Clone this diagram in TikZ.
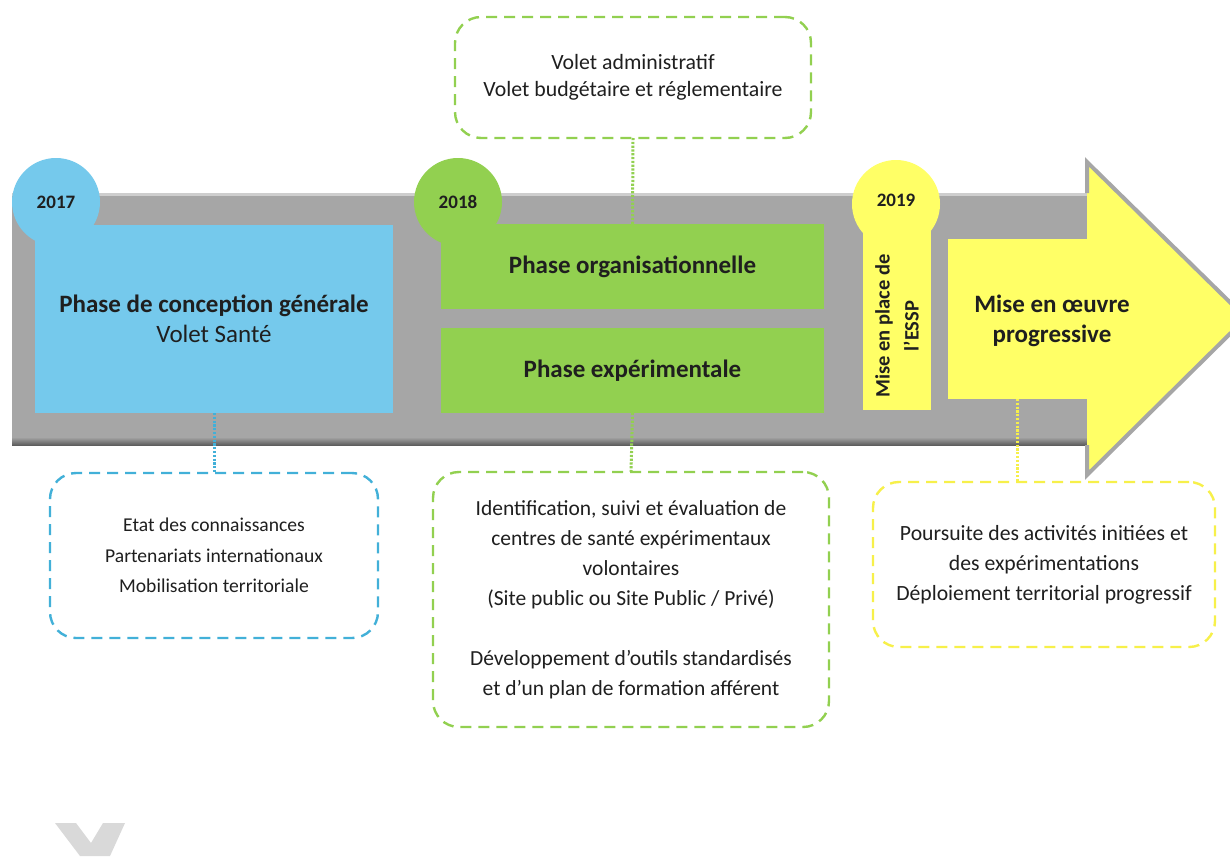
\documentclass[tikz,border=0pt]{standalone}
\usepackage{fontspec}
\setmainfont{Carlito}
\begin{document}
\begin{tikzpicture}[x=1pt,y=-1pt,
  every node/.style={inner sep=0pt, outer sep=0pt, text=black!88},
  yearbubble/.style={circle, minimum size=88pt, font=\bfseries\fontsize{19}{21}\selectfont},
  phasebox/.style={rectangle, align=center},
  titlefont/.style={font=\bfseries\fontsize{25}{30}\selectfont},
  notebox/.style={rectangle, rounded corners=26pt, line width=2.4pt, dash pattern=on 11pt off 7pt, fill=white, align=center},
  leader/.style={line width=3pt, dash pattern=on 2.2pt off 1.6pt},
]
\definecolor{barGray}{HTML}{A6A6A6}
\definecolor{barDark}{HTML}{5E5E5E}
\definecolor{skyBlue}{HTML}{75C9EC}
\definecolor{skyLine}{HTML}{42B0D8}
\definecolor{leafGreen}{HTML}{92D050}
\definecolor{sunYellow}{HTML}{FFFF66}
\definecolor{sunLine}{HTML}{F7F04A}

\clip (0,0) rectangle (1230,856);
\fill[white] (0,0) rectangle (1230,856);

% timeline bar with bevelled lower edge
\fill[barGray] (12,193) rectangle (1087,445);
\fill[white!45!barGray] (12,193) rectangle (1087,195.5);
\shade[top color=barGray, bottom color=barDark] (12,437) rectangle (1087,445);

% arrow head
\fill[sunYellow] (1087,162) -- (1246,318) -- (1087,475) -- cycle;
\draw[barGray, line width=4pt, line join=miter]
  (1087,193) -- (1087,162) -- (1246,318) -- (1087,475) -- (1087,445);

% 2017
\node[yearbubble, fill=skyBlue] (y17) at (56,202) {2017};
\node[phasebox, fill=skyBlue, minimum width=358pt, minimum height=188pt,
      font=\fontsize{25}{30}\selectfont] (conc) at (214,319)
  {\textbf{Phase de conception générale}\\Volet Santé};

% 2018
\node[yearbubble, fill=leafGreen] (y18) at (458,202) {2018};
\node[phasebox, titlefont, fill=leafGreen, minimum width=383pt, minimum height=85pt] (orga) at (632.5,266.5) {Phase organisationnelle};
\node[phasebox, titlefont, fill=leafGreen, minimum width=383pt, minimum height=85pt] (expe) at (632.5,370.5) {Phase expérimentale};

% 2019
\node[yearbubble, fill=sunYellow] (y19) at (896,204) {};
\node[font=\bfseries\fontsize{19}{21}\selectfont] (y19t) at (896,200) {2019};
\node[phasebox, fill=sunYellow, minimum width=68pt, minimum height=185pt] (essp) at (897,317.5) {};
\node[rotate=90, align=center, font=\bfseries\fontsize{20.5}{29}\selectfont] (esspt) at (897,326)
  {Mise en place de\\l’ESSP};
\node[phasebox, fill=sunYellow, minimum width=139pt, minimum height=160pt] (prog) at (1017.5,319) {};
\node[titlefont, align=center] (progt) at (1052,321) {Mise en œuvre\\progressive};

% notes
\node[notebox, draw=leafGreen, minimum width=356pt, minimum height=121pt,
      font=\fontsize{21.8}{27}\selectfont] (admin) at (633,77.5)
  {Volet administratif\\Volet budgétaire et réglementaire};
\node[notebox, draw=skyLine, minimum width=328pt, minimum height=165pt,
      font=\fontsize{19.6}{30.5}\selectfont] (etat) at (214,555.5)
  {Etat des connaissances\\Partenariats internationaux\\Mobilisation territoriale};
\node[notebox, draw=leafGreen, minimum width=396pt, minimum height=255pt,
      font=\fontsize{21.5}{30}\selectfont] (ident) at (631,599.5)
  {Identification, suivi et évaluation de\\centres de santé expérimentaux\\volontaires\\(Site public ou Site Public / Privé)\\[30pt]Développement d’outils standardisés\\et d’un plan de formation afférent};
\node[notebox, draw=sunLine, minimum width=342pt, minimum height=165pt,
      font=\fontsize{21.7}{30}\selectfont] (pours) at (1044,564.5)
  {Poursuite des activités initiées et\\des expérimentations\\Déploiement territorial progressif};

% leaders
\draw[leader, skyLine] (conc.south) -- (etat.north);
\draw[leader, leafGreen] (admin.south) -- (orga.north);
\draw[leader, leafGreen] (expe.south) -- (ident.north);
\draw[leader, sunLine] (prog.south) -- (prog.south |- pours.north);

% corner mark
\fill[black!15] (55,823) -- (76,823) -- (91,843) -- (103,823) -- (125,823) -- (110,856) -- (80,856) -- cycle;
\end{tikzpicture}
\end{document}
